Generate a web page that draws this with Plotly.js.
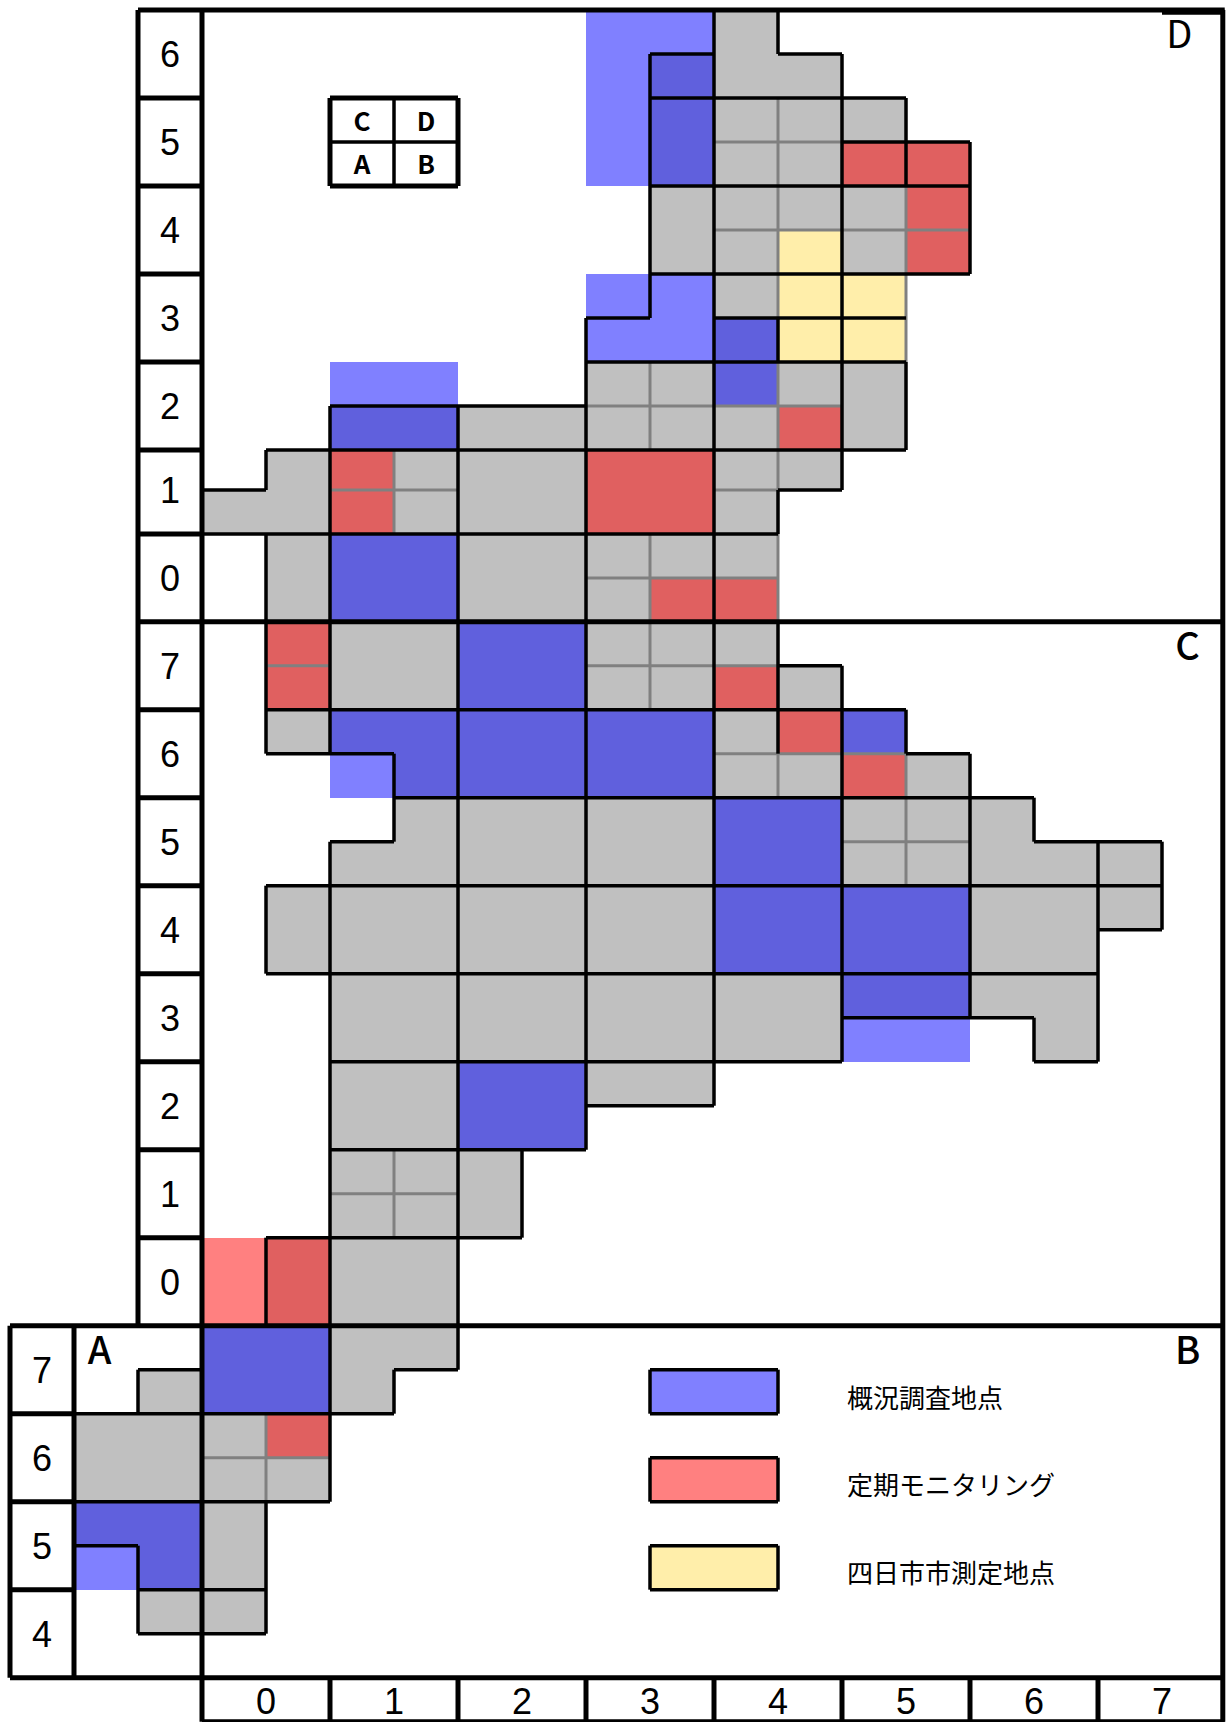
<!DOCTYPE html>
<html>
<head>
<meta charset="utf-8">
<script src="https://cdn.plot.ly/plotly-3.0.1.min.js"></script>
<style>html,body{margin:0;padding:0;background:#fff}</style>
</head>
<body>
<div id="chart" style="width:1226px;height:1722px"></div>
<script>
// Half-cell map: one string per half row, 18 characters for half columns c=-2..15
const cellRows = [
"........llg.......","........lbgg......","........lbggg.....","........lbggrr....",
".........ggggr....",".........ggygr....","........llgyy.....","........llbyy.....",
"....ll..ggbgg.....","....bbgggggrg.....","...grgggrrgg......","..ggrgggrrg.......",
"...gbbggggg.......","...gbbgggrr.......",
"...rggbbggg.......","...rggbbggrg......","...gbbbbbbgrb.....","....lbbbbbggrg....",
".....gggggbbggg...","....ggggggbbggggg.","...gggggggbbbbggg.","...gggggggbbbbgg..",
"....ggggggggbbgg..","....ggggggggll.g..","....ggbbgg........","....ggbb..........",
"....ggg...........","....ggg...........","..prgg............","..prgg............",
"..bbgg............",".gbbg....ll.......","gggr..............","gggg.....pp.......",
"bbg...............","lbg......yy.......",".gg...............",".................."
];
const cellKinds = ".gblrpy";
const cellColors = ["#ffffff","#c0c0c0","#6060dd","#8080ff","#e06060","#ff8080","#ffeeaa"];

const rowLabels = ["6","5","4","3","2","1","0","7","6","5","4","3","2","1","0","7","6","5","4"];
const columnLabels = ["0","1","2","3","4","5","6","7"];
const legendLabels = ["概況調査地点","定期モニタリング","四日市市測定地点"];
const sectionLabels = ["A","B","C"];
const cornerLabels = ["D"];
const keyLabels = ["C","D","A","B"];

// Outlines: horizontal [h, c1, c2], vertical [c, h1, h2]
const blackH = [[1,7,8],[1,9,10],[2,7,11],[3,10,12],[4,7,12],[6,7,12],[7,6,7],[7,8,11],[8,6,11],
[9,2,6],[10,1,11],[11,0,1],[11,9,10],[12,0,9],[15,9,10],[16,1,11],[17,1,3],[17,11,12],[18,3,13],
[19,2,3],[19,13,15],[20,1,15],[21,14,15],[22,1,14],[23,10,13],[24,2,10],[24,13,14],[25,6,8],
[26,2,6],[28,1,5],[31,-1,0],[31,3,4],[32,-2,3],[34,-2,2],[35,-2,-1],[36,-1,1],[37,-1,1],
[31,7,9],[32,7,9],[33,7,9],[34,7,9],[35,7,9],[36,7,9]];
const blackV = [[1,10,11],[1,12,17],[1,20,22],[1,28,30],[1,34,37],[2,9,17],[2,19,34],[3,17,19],[3,31,32],
[4,9,31],[5,26,28],[6,7,26],[7,1,7],[8,0,25],[9,0,1],[9,7,8],[9,11,12],[9,14,17],[10,1,11],[10,15,24],
[11,2,4],[11,8,10],[11,16,17],[12,3,6],[12,17,23],[13,18,19],[13,23,24],[14,19,24],[15,19,21],
[-1,31,32],[-1,35,37],[7,31,32],[9,31,32],[7,33,34],[9,33,34],[7,35,36],[9,35,36]];
const grayH = [[3,8,10],[5,8,12],[9,6,10],[11,2,4],[11,8,9],[13,6,9],[15,1,2],[15,6,9],[17,8,11],
[19,10,12],[27,2,4],[33,0,2]];
const grayV = [[1,32,34],[3,10,12],[3,26,28],[7,8,10],[7,12,16],[9,2,7],[9,8,11],[9,12,14],[9,17,18],
[11,4,8],[11,17,20]];
const frameH = [[0,-1,15.98],[0.05,15,15.98],[14,-1,15.98],[30,-3,15.98],[38,-3,15.98],[39,0,15.98],
[2,-1,0],[4,-1,0],[6,-1,0],[8,-1,0],[10,-1,0],[12,-1,0],[16,-1,0],[18,-1,0],[20,-1,0],[22,-1,0],
[24,-1,0],[26,-1,0],[28,-1,0],[32,-3,-2],[34,-3,-2],[36,-3,-2],[2,2,4],[4,2,4]];
const frameV = [[-1,0,30],[0,0,39],[15.95,0,39],[-3,30,38],[-2,30,38],[2,38,39],[4,38,39],[6,38,39],
[8,38,39],[10,38,39],[12,38,39],[14,38,39],[2,2,4],[4,2,4]];
const keyThin = {h:[[3,2,4]], v:[[3,2,4]]};

// The picture's row boundaries drift by a few pixels through rows 1 and 0 of the top section
function rowY(h){
  const s = h < 10.5 ? 0 : (h < 13.5 ? 0.091 : 0.098);
  return h - s;
}
const cellZ = cellRows.map(r => [...r].map(ch => { const k = cellKinds.indexOf(ch); return k <= 0 ? null : k; }));
const xEdges = Array.from({length:19},(_, i)=>i-2);
const yEdges = Array.from({length:39},(_, i)=>rowY(i));
const n = cellColors.length - 1;
const colorscale = [];
cellColors.forEach((c,i)=>{ colorscale.push([Math.max(0,(i-0.5)/n),c]); colorscale.push([Math.min(1,(i+0.5)/n),c]); });

function lineTrace(hs, vs, color, width){
  const x=[], y=[];
  hs.forEach(([h,a,b])=>{ x.push(a,b,null); y.push(rowY(h),rowY(h),null); });
  vs.forEach(([c,a,b])=>{ x.push(c,c,null); y.push(rowY(a),rowY(b),null); });
  return {type:"scatter",mode:"lines",x,y,line:{color,width,shape:"linear"},hoverinfo:"skip",showlegend:false,connectgaps:false};
}
function textTrace(x,y,text,size,family,position,weight){
  return {type:"scatter",mode:"text",x,y:y.map(rowY),text,textposition:position||"middle center",
    textfont:{size,family,color:"#000",weight:weight||400},hoverinfo:"skip",showlegend:false,cliponaxis:false};
}
const sans = "Liberation Sans, Arial, sans-serif";
const cjk = "Noto Sans CJK JP, sans-serif";

const rowH = [1.1,3.1,5.1,7.1,9.1,11.1,13.1,15.1,17.1,19.1,21.1,23.1,25.1,27.1,29.1,31.1,33.1,35.1,37.1];
const rowC = rowLabels.map((_,i)=> i<15 ? -0.5 : -2.5);

const data = [
  {type:"heatmap",x:xEdges,y:yEdges,z:cellZ,zmin:0,zmax:n,colorscale,showscale:false,hoverinfo:"skip",zsmooth:false},
  lineTrace(grayH,grayV,"#808080",3),
  lineTrace(blackH,blackV,"#000000",3.5),
  lineTrace(keyThin.h,keyThin.v,"#000000",3.5),
  lineTrace(frameH,frameV,"#000000",5),
  textTrace(rowC,rowH,rowLabels,36,sans),
  textTrace(columnLabels.map((_,i)=>2*i+1),columnLabels.map(()=>38.63),columnLabels,36,sans),
  textTrace([10.08,10.08,10.08],[31.73,33.69,35.69],legendLabels,26,cjk,"middle right"),
  textTrace([-1.6,15.4,15.4],[30.66,30.66,14.66],sectionLabels,38,cjk,"middle center",500),
  textTrace([15.27],[0.64],cornerLabels,38,cjk),
  textTrace([2.5,3.5,2.5,3.5],[2.6,2.6,3.58,3.58],keyLabels,26,cjk,"middle center",700)
];
const layout = {
  width:1226,height:1722,margin:{l:0,r:0,t:0,b:0,pad:0},
  paper_bgcolor:"#fff",plot_bgcolor:"#fff",showlegend:false,
  xaxis:{range:[-202/64,16],visible:false,fixedrange:true},
  yaxis:{range:[1712/44,-10/44],visible:false,fixedrange:true}
};
Plotly.newPlot("chart",data,layout,{displayModeBar:false,staticPlot:true});
</script>
</body>
</html>
